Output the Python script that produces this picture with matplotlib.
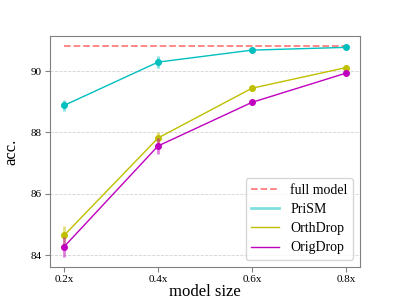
import numpy as np
import matplotlib
matplotlib.use('Agg')
import matplotlib.pyplot as plt
from matplotlib.lines import Line2D

plt.rcParams['font.family'] = ['Liberation Serif', 'DejaVu Serif']

sizes = ['0.2x', '0.4x', '0.6x', '0.8x']
full_model = 90.8

prism = [88.88, 90.29, 90.68, 90.77]
prism_err = [0.17, 0.2, 0.05, 0.04]
orth = [84.65, 87.82, 89.44, 90.11]
orth_err = [0.32, 0.2, 0.06, 0.05]
orig = [84.28, 87.56, 88.98, 89.93]
orig_err = [0.32, 0.25, 0.06, 0.05]

x = np.arange(len(sizes))

fig, ax = plt.subplots(figsize=(4, 3), dpi=100)

ax.plot(x, [full_model] * len(x), '--', color='red', alpha=0.5, lw=1.3)

series = [('PriSM', prism, prism_err, 'c'),
          ('OrthDrop', orth, orth_err, 'y'),
          ('OrigDrop', orig, orig_err, 'm')]
for name, vals, err, col in series:
    ax.errorbar(x, vals, yerr=err, fmt='none', ecolor=col, alpha=0.5, lw=2)
    ax.plot(x, vals, '-o', color=col, lw=1, ms=4)

# legend shows plain lines only
handles = [Line2D([], [], ls='--', color='red', alpha=0.5, lw=1.3),
           Line2D([], [], color='c', alpha=0.5, lw=2),
           Line2D([], [], color='y', lw=1),
           Line2D([], [], color='m', lw=1)]
labels = ['full model', 'PriSM', 'OrthDrop', 'OrigDrop']

ax.set_xticks(x)
ax.set_xticklabels(sizes)
ax.set_yticks([84, 86, 88, 90])
ax.set_ylim(83.62, 91.14)
ax.tick_params(labelsize=8, color='gray', pad=2.5)
ax.set_xlabel('model size', fontsize=12, labelpad=0)
ax.set_ylabel('acc.', fontsize=12, labelpad=8)
ax.grid(axis='y', ls='--', color='lightgray', lw=0.6)
for sp in ax.spines.values():
    sp.set_color('gray')

ax.legend(handles, labels, loc='lower right', fontsize=10, labelspacing=0.45)

plt.savefig('out.png', dpi=100)
